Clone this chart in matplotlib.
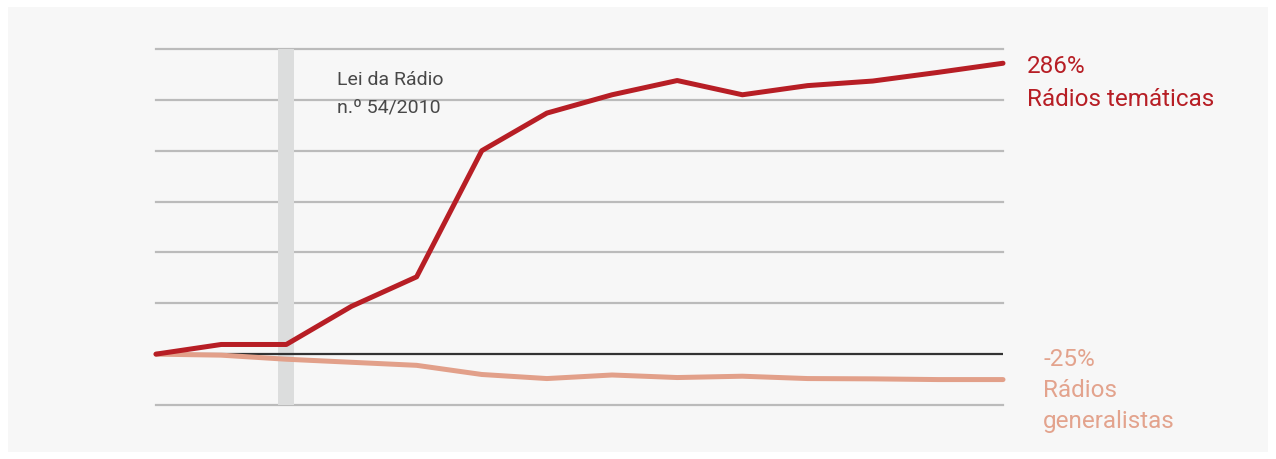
import matplotlib.pyplot as plt
from matplotlib.patches import Rectangle

# variação acumulada face a 2008 (%)
anos = list(range(2008, 2022))
tematicas = [0, 9.5, 9.5, 47, 76, 200, 237, 255, 269, 255, 264, 268.5, 277, 286]
generalistas = [0, -1, -5, -8, -11, -20, -24, -20.5, -23, -21.7, -24, -24.3, -25, -25]
grelha = [-50, 50, 100, 150, 200, 250, 300]
ano_lei = 2010

VERMELHO = '#b71e25'
SALMAO = '#e2a08a'
FUNDO = '#f7f7f7'

plt.rcParams['font.family'] = ['Roboto', 'DejaVu Sans']


def etiqueta(ax, xy, linhas, dx, dy, cor, tamanho, passo):
    '''Escreve as linhas uma a uma, com a linha de base a dy px do ponto.'''
    for i, linha in enumerate(linhas):
        ax.annotate(linha, xy, xytext=(dx, dy - i * passo),
                    textcoords='offset pixels', fontsize=tamanho, color=cor,
                    ha='left', va='baseline', annotation_clip=False, zorder=5)


fig = plt.figure(figsize=(12.76, 4.59), dpi=100)
fig.patch.set_facecolor('white')
fig.add_artist(Rectangle((8 / 1276, 7 / 459), 1260 / 1276, 445 / 459,
                         transform=fig.transFigure, facecolor=FUNDO,
                         edgecolor='none', zorder=-10))

ax = fig.add_axes([156 / 1276, 54 / 459, 847 / 1276, 356 / 459])
ax.set_facecolor('none')
ax.set_xlim(2008, 2021)
ax.set_ylim(-50, 300)

for y in grelha:
    ax.axhline(y, color='#bbbbbb', lw=1.6, zorder=1, clip_on=False)
ax.axhline(0, color='#333333', lw=1.6, zorder=2)

# faixa da lei de 2010
ax.axvspan(ano_lei - 0.125, ano_lei + 0.125, color='#dcdddd', lw=0, zorder=1)
etiqueta(ax, (ano_lei, 300), ['Lei da Rádio', 'n.º 54/2010'], 51, -36,
         '#484848', 14, 27)

ax.plot(anos, generalistas, color=SALMAO, lw=3.6, solid_capstyle='round',
        solid_joinstyle='round', zorder=3, clip_on=False)
ax.plot(anos, tematicas, color=VERMELHO, lw=3.6, solid_capstyle='round',
        solid_joinstyle='round', zorder=4, clip_on=False)

etiqueta(ax, (anos[-1], tematicas[-1]),
         [f'{tematicas[-1]:.0f}%', 'Rádios temáticas'], 24, -10,
         VERMELHO, 17.5, 33)
etiqueta(ax, (anos[-1], generalistas[-1]),
         [f'{generalistas[-1]:.0f}%', 'Rádios', 'generalistas'], 40, 14,
         '#e3a38d', 17.5, 31)

for lado in ax.spines.values():
    lado.set_visible(False)
ax.set_xticks([])
ax.set_yticks([])

fig.savefig('out.png', dpi=100)
